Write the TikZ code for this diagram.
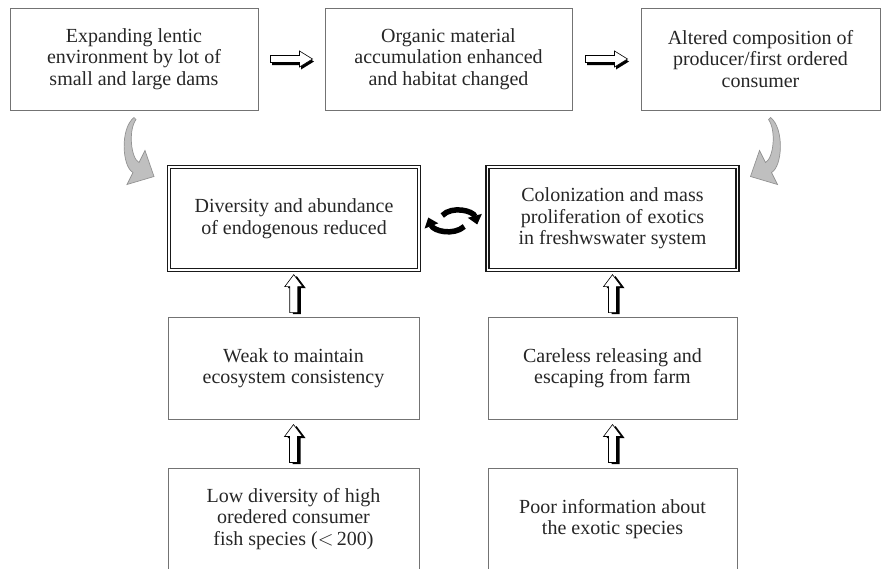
\documentclass[tikz,border=0pt]{standalone}
\usepackage{fontspec}
\setmainfont{Liberation Serif}
\usetikzlibrary{positioning,calc,arrows.meta}

\tikzset{
    % block arrow to the right, white with black shadow
    rarrow/.pic={
        \fill[black, shift={(1.5,2.5)}] (-21,-3.5) -- (8,-3.5) -- (8,-8) -- (21,0) -- (8,8) -- (8,3.5) -- (-21,3.5) -- cycle;
        \filldraw[fill=white, draw=black, line width=0.6pt] (-21,-3.5) -- (8,-3.5) -- (8,-8) -- (21,0) -- (8,8) -- (8,3.5) -- (-21,3.5) -- cycle;
    },
    % block arrow upwards
    uparrow/.pic={
        \fill[black, shift={(3,1.5)}] (0,-19) -- (9,-7) -- (4,-7) -- (4,19) -- (-4,19) -- (-4,-7) -- (-9,-7) -- cycle;
        \filldraw[fill=white, draw=black, line width=0.6pt] (0,-19) -- (9,-7) -- (4,-7) -- (4,19) -- (-4,19) -- (-4,-7) -- (-9,-7) -- cycle;
    },
    % grey bent arrow
    bendarrow/.pic={
        \filldraw[fill=gray!50, draw=gray!85, line width=0.7pt] (0,0) .. controls (-14,11) and (-12,49) .. (-1,55) -- (-7,67) -- (20,59) -- (11,33) -- (5,45) .. controls (-3,41) and (-6,13) .. (2,2) -- cycle;
    }
}

\begin{document}
\begin{tikzpicture}[
    x=1pt, y=-1pt,
    every node/.style={font=\fontsize{20}{21.5}\selectfont, text=black!85},
    box/.style={draw=black!55, line width=1pt, minimum width=#1, minimum height=102pt, align=center, inner sep=0pt},
    box/.default=250pt,
    dblbox/.style={draw=black!90, line width=1.4pt, double=white, double distance=1.5pt, minimum width=250pt, minimum height=103pt, align=center, inner sep=0pt},
    cycarrow/.style={-{Triangle[width=14pt,length=9pt]}, line width=5.5pt, black}
]
\useasboundingbox (0,0) rectangle (883,568);
\clip (0,0) rectangle (883,568);

% Top row
\node[box=248pt] (lentic) at (134,59) {Expanding lentic\\environment by lot of\\small and large dams};
\node[box=247pt] (organic) at (448.5,59) {Organic material\\accumulation enhanced\\and habitat changed};
\node[box=239pt] (altered) at (760.5,59) {Altered composition of\\producer/first ordered\\consumer};

% Central double boxes
\node[dblbox] (diversity) at (294,218.5) {Diversity and abundance\\of endogenous reduced};
\node[dblbox] (exotics) at (612.5,218.5) {Colonization and mass\\proliferation of exotics\\in freshwswater system};

% Middle row
\node[box=251pt] (weak) at (293.5,368) {Weak to maintain\\ecosystem consistency};
\node[box=249pt] (careless) at (612.5,368) {Careless releasing and\\escaping from farm};

% Bottom row
\node[box=251pt] (lowdiv) at (293.5,519) {Low diversity of high\\oredered consumer\\fish species ($<$\,200)};
\node[box=249pt] (poorinfo) at (612.5,519) {Poor information about\\the exotic species};

% Arrows along the top
\pic at ($(lentic.east)!0.5!(organic.west)$) {rarrow};
\pic at ($(organic.east)!0.5!(altered.west)$) {rarrow};

% Grey bent arrows
\pic at ($(lentic.south)+(0,7)$) {bendarrow};
\pic[xscale=-1] at ($(altered.south)+(10,7)$) {bendarrow};

% Mutual arrows between the central boxes
\coordinate (cyc) at ($(diversity.east)!0.5!(exotics.west)$);
\draw[cycarrow] ($(cyc)+(-11,-3)$) to[bend left=60] ($(cyc)+(24,6)$);
\draw[cycarrow] ($(cyc)+(11,8)$) to[bend left=55] ($(cyc)+(-25,-1)$);

% Upward arrows
\pic at ($(diversity.south)!0.5!(weak.north)$) {uparrow};
\pic at ($(exotics.south)!0.5!(careless.north)$) {uparrow};
\pic at ($(weak.south)!0.5!(lowdiv.north)$) {uparrow};
\pic at ($(careless.south)!0.5!(poorinfo.north)$) {uparrow};

\end{tikzpicture}
\end{document}
